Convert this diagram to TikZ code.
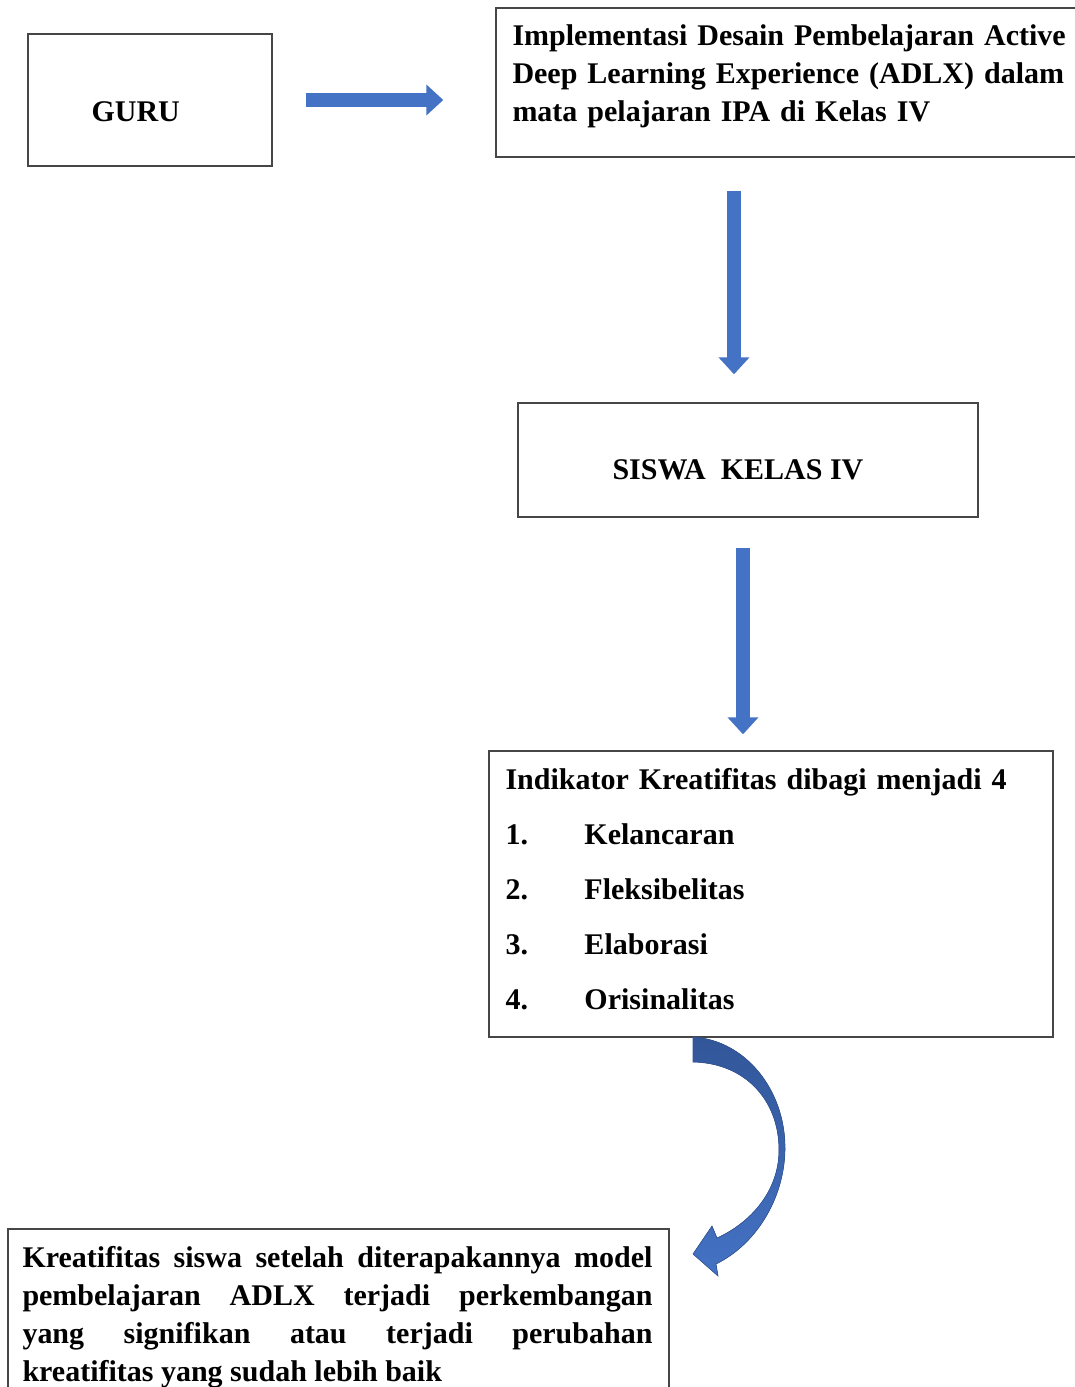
\documentclass[tikz,border=0pt]{standalone}
\usepackage{fontspec}
\setmainfont{Liberation Serif}
\usetikzlibrary{arrows.meta}
\definecolor{arrowblue}{RGB}{68,114,196}
\definecolor{arrowdark}{RGB}{50,86,152}
\definecolor{boxline}{RGB}{70,70,70}

\begin{document}
\begin{tikzpicture}[x=1pt, y=-1pt,
		box/.style = {rectangle, draw=boxline, line width=1.4pt, inner sep=0},
		txt/.style = {anchor=base west, inner sep=0, align=left, font=\bfseries\fontsize{30}{38}\selectfont},
		barrow/.style = {-{Triangle[length=17pt, width=30pt]}, draw=arrowblue, line width=14pt},
		]
		\useasboundingbox (0,0) rectangle (1075,1387);
		\clip (0,0) rectangle (1075,1387);
		
		%Nodes
		\node[box, minimum width=244, minimum height=132]	(guru)	at	(150,100)	{};
		\node[box, minimum width=590, minimum height=149]	(impl)	at	(791,82.5)	{};
		\node[box, minimum width=460, minimum height=114]	(siswa)	at	(748,460)	{};
		\node[box, minimum width=564, minimum height=286]	(indik)	at	(771,894)	{};
		\node[box, minimum width=661, minimum height=172]	(hasil)	at	(338.5,1315)	{};
		
		%Texts
		\node[txt]	(gurutxt)	at	([xshift=64pt, yshift=-88pt]guru.north west)	{GURU};
		\node[txt, text width=575]	(impltxt)	at	([xshift=17pt, yshift=-38pt]impl.north west)
			{Implementasi Desain Pembelajaran Active\\Deep Learning Experience (ADLX) dalam\\mata pelajaran IPA di Kelas IV};
		\node[txt]	(siswatxt)	at	([xshift=95pt, yshift=-77pt]siswa.north west)	{SISWA\ \ KELAS IV};
		\node[txt, text width=540, font=\bfseries\fontsize{30}{55}\selectfont]	(indiktxt)	at	([xshift=17pt, yshift=-39pt]indik.north west)
			{Indikator Kreatifitas dibagi menjadi 4\\
			\makebox[79pt][l]{1.}Kelancaran\\
			\makebox[79pt][l]{2.}Fleksibelitas\\
			\makebox[79pt][l]{3.}Elaborasi\\
			\makebox[79pt][l]{4.}Orisinalitas};
		\node[txt, text width=630, align=justify]	(hasiltxt)	at	([xshift=15pt, yshift=-39pt]hasil.north west)
			{Kreatifitas siswa setelah diterapakannya model\linebreak
			pembelajaran ADLX terjadi perkembangan\linebreak
			yang signifikan atau terjadi perubahan\linebreak
			kreatifitas yang sudah lebih baik};
		
		%Arrows
		\draw[barrow, shorten <=33pt, shorten >=52pt]	(guru.east)	--	(guru.east -| impl.west);
		\draw[barrow, shorten <=33pt, shorten >=28pt]	([xshift=-14pt]siswa.north |- impl.south)	--	([xshift=-14pt]siswa.north);
		\draw[barrow, shorten <=30pt, shorten >=16pt]	([xshift=-5pt]siswa.south)	--	([xshift=-5pt]siswa.south |- indik.north);
		\fill[top color=arrowdark, bottom color=arrowblue, draw=arrowdark, line width=0.6pt]
			(693,1037) .. controls (745,1040) and (786,1090) .. (785,1150)
			.. controls (784,1200) and (755,1245) .. (716,1264)
			-- (718,1276) -- (693,1254) -- (712,1226) -- (717,1238)
			.. controls (752,1222) and (779,1190) .. (779,1150)
			.. controls (779,1100) and (745,1063) .. (693,1062) -- cycle;
	\end{tikzpicture}
\end{document}
